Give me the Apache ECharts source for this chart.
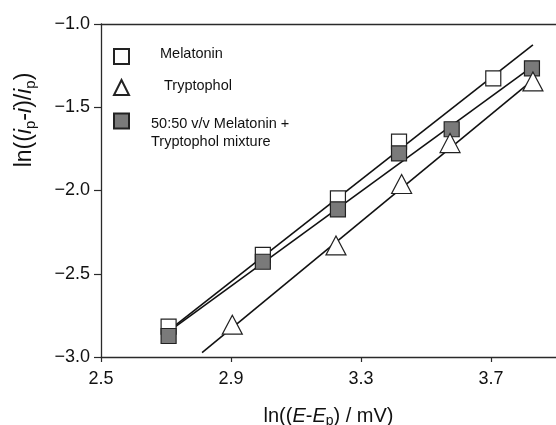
<!DOCTYPE html>
<html>
<head>
<meta charset="utf-8">
<script src="https://cdn.jsdelivr.net/npm/echarts@6/dist/echarts.min.js"></script>
<style>
html,body{margin:0;padding:0;background:#fff;}
#c{width:556px;height:425px;}
</style>
</head>
<body>
<div id="c"></div>
<script>
// ---- data ----
var seriesNames = ['Melatonin', 'Tryptophol', '50:50 v/v Melatonin +\nTryptophol mixture'];
var xMel = [2.708, 2.998, 3.229, 3.417, 3.707];
var yMel = [-2.818, -2.387, -2.047, -1.707, -1.326];
var xTry = [2.904, 3.223, 3.425, 3.574, 3.829];
var yTry = [-2.806, -2.330, -1.961, -1.715, -1.345];
var xMix = [2.708, 2.998, 3.229, 3.417, 3.579, 3.826];
var yMix = [-2.874, -2.428, -2.113, -1.777, -1.632, -1.266];
// fitted lines (end points)
var melFitX = [2.708, 3.829], melFitY = [-2.842, -1.126];
var tryFitX = [2.811, 3.829], tryFitY = [-2.974, -1.336];
var mixFitX = [2.708, 3.826], mixFitY = [-2.848, -1.258];
// axes
var xMin = 2.5, xMax = 3.9, xStep = 0.4;
var yMin = -3.0, yMax = -1.0, yStep = 0.5;

function pairs(xs, ys) { return xs.map(function (x, i) { return [x, ys[i]]; }); }

var FONT = 'Liberation Sans, Arial, Helvetica, sans-serif';
var chart = echarts.init(document.getElementById('c'), null, {renderer: 'canvas'});
var axisColor = '#2a2a2a';
function lf(extra) { return Object.assign({fontSize: 14.5, fontFamily: FONT, color: '#111'}, extra); }

var option = {
  animation: false,
  backgroundColor: '#fff',
  textStyle: {fontFamily: FONT},
  grid: {left: 101, top: 24, right: 0, bottom: 68, containLabel: false, outerBoundsMode: 'none'},
  xAxis: [{
    type: 'value', min: xMin, max: xMax, interval: xStep,
    axisLine: {show: true, onZero: false, lineStyle: {color: axisColor, width: 1.3}},
    axisTick: {show: true, length: 5, lineStyle: {color: axisColor, width: 1.2}},
    axisLabel: {show: true, showMaxLabel: false, margin: 13, color: '#111', fontSize: 18, fontFamily: FONT,
      formatter: function (v) { return v.toFixed(1); }},
    splitLine: {show: false},
    name: '{n|ln((}{i|E}{n|-}{i|E}{s|p}{n|) / mV)}',
    nameLocation: 'middle', nameGap: 48,
    nameTextStyle: {rich: {
      n: {fontSize: 20, fontFamily: FONT, color: '#111', lineHeight: 23},
      i: {fontSize: 20, fontFamily: FONT, color: '#111', fontStyle: 'italic', lineHeight: 23},
      s: {fontSize: 14, fontFamily: FONT, color: '#111', verticalAlign: 'bottom', lineHeight: 12}
    }}
  }, {
    type: 'value', position: 'top', min: xMin, max: xMax, interval: xStep,
    axisLine: {show: true, onZero: false, lineStyle: {color: axisColor, width: 1.3}},
    axisTick: {show: false}, axisLabel: {show: false}, splitLine: {show: false}
  }],
  yAxis: {
    type: 'value', min: yMin, max: yMax, interval: yStep,
    axisLine: {show: true, onZero: false, lineStyle: {color: axisColor, width: 1.3}},
    axisTick: {show: true, length: 7, lineStyle: {color: axisColor, width: 1.2}},
    axisLabel: {margin: 11, color: '#111', fontSize: 18, fontFamily: FONT,
      formatter: function (v) { return v.toFixed(1).replace('-', '\u2212'); }},
    splitLine: {show: false}
  },
  legend: {
    orient: 'vertical', left: 113, top: 37.5, padding: 0,
    itemWidth: 15, itemHeight: 15, itemGap: 3,
    textStyle: lf({lineHeight: 14, rich: {
      m: lf({lineHeight: 14, padding: [0, 0, 6, 26]}),
      t: lf({lineHeight: 14, padding: [0, 0, 3, 30]}),
      x1: lf({lineHeight: 7, padding: [13, 0, 0, 17]}),
      x2: lf({lineHeight: 7, padding: [35, 0, 0, 17]})
    }}),
    formatter: function (name) {
      if (name === seriesNames[0]) return '{m|' + name + '}';
      if (name === seriesNames[1]) return '{t|' + name + '}';
      var parts = name.split('\n');
      return '{x1|' + parts[0] + '}\n{x2|' + parts[1] + '}';
    },
    data: [
      {name: seriesNames[0], textStyle: {padding: [12, 0, 12, 0]}},
      {name: seriesNames[1]},
      {name: seriesNames[2]}
    ]
  },
  graphic: [{
    type: 'text', x: 25, y: 120, rotation: Math.PI / 2,
    style: {
      text: '{n|ln((}{i|i}{s|p}{n|-}{i|i}{n|)/}{i|i}{s|p}{n|)}',
      align: 'center', verticalAlign: 'middle',
      rich: {
        n: {fontSize: 23, fontFamily: FONT, fill: '#111', lineHeight: 26},
        i: {fontSize: 23, fontFamily: FONT, fill: '#111', fontStyle: 'italic', lineHeight: 26},
        s: {fontSize: 15, fontFamily: FONT, fill: '#111', verticalAlign: 'bottom', lineHeight: 13}
      }
    }
  }],
  series: [
    {type: 'line', name: 'fitMel', data: pairs(melFitX, melFitY), symbol: 'none', z: 1,
      lineStyle: {color: '#111', width: 1.6}},
    {type: 'line', name: 'fitMix', data: pairs(mixFitX, mixFitY), symbol: 'none', z: 1,
      lineStyle: {color: '#111', width: 1.6}},
    {type: 'line', name: 'fitTry', data: pairs(tryFitX, tryFitY), symbol: 'none', z: 1,
      lineStyle: {color: '#111', width: 1.6}},
    {type: 'scatter', name: seriesNames[0], data: pairs(xMel, yMel), symbol: 'rect', symbolSize: 15, z: 3,
      itemStyle: {color: '#fff', borderColor: '#222', borderWidth: 1.2, opacity: 1}},
    {type: 'scatter', name: seriesNames[2], data: pairs(xMix, yMix), symbol: 'rect', symbolSize: 15, z: 4,
      itemStyle: {color: '#7a7a7a', borderColor: '#222', borderWidth: 1.2, opacity: 1}},
    {type: 'scatter', name: seriesNames[1], data: pairs(xTry, yTry), symbol: 'triangle', symbolSize: [20, 19], z: 5,
      itemStyle: {color: '#fff', borderColor: '#222', borderWidth: 1.2, opacity: 1}}
  ]
};
chart.setOption(option);
</script>
</body>
</html>
